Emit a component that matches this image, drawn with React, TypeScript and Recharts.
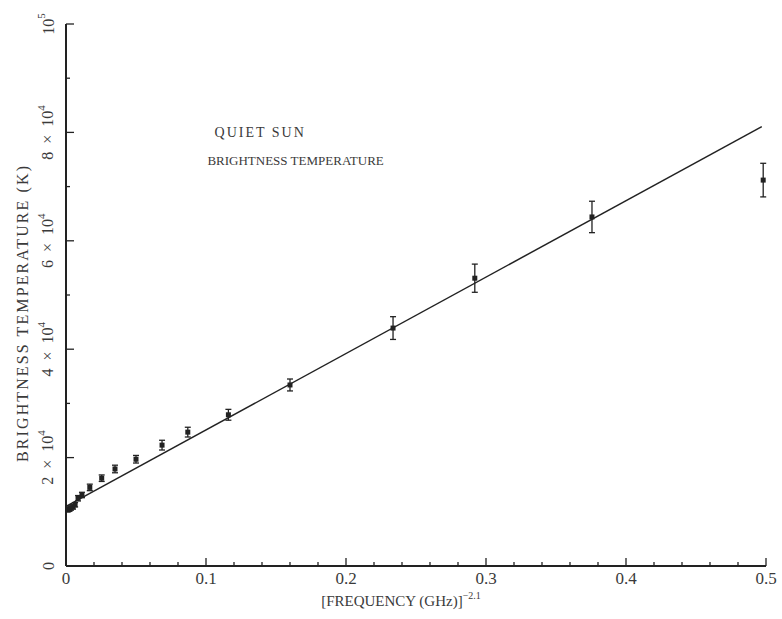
import { ComposedChart, Scatter, XAxis, YAxis, ErrorBar, ReferenceDot } from "recharts"

const freqX = [0.0015, 0.0025, 0.0035, 0.005, 0.0065, 0.0086, 0.0114, 0.017, 0.0255, 0.035, 0.05, 0.0686, 0.087, 0.116, 0.16, 0.2336, 0.292, 0.3757, 0.498]
const tempK = [10400, 10500, 10700, 10900, 11300, 12500, 13100, 14500, 16200, 17900, 19700, 22300, 24700, 27900, 33400, 43900, 53100, 64400, 71200]
const tempErr = [400, 400, 400, 400, 400, 500, 500, 600, 600, 700, 700, 900, 900, 1000, 1100, 2100, 2600, 2900, 3100]

const fitX = [0, 0.497]
const fitT = [11000, 81080]

const xTicks = [0, 0.02, 0.04, 0.06, 0.08, 0.1, 0.12, 0.14, 0.16, 0.18, 0.2, 0.22, 0.24, 0.26, 0.28, 0.3, 0.32, 0.34, 0.36, 0.38, 0.4, 0.42, 0.44, 0.46, 0.48, 0.5]
const yTicks = [0, 10000, 20000, 30000, 40000, 50000, 60000, 70000, 80000, 90000, 100000]
const yLabels: Record<number, [string, string]> = {
  0: ["0", ""],
  20000: ["2 × 10", "4"],
  40000: ["4 × 10", "4"],
  60000: ["6 × 10", "4"],
  80000: ["8 × 10", "4"],
  100000: ["10", "5"],
}

const points = freqX.map((x, i) => ({ x, T: tempK[i], err: tempErr[i] }))
const fit = fitX.map((x, i) => ({ x, T: fitT[i] }))

const ink = "#222"
const textInk = "#3a3a3a"
const font = "'Liberation Serif', 'DejaVu Serif', serif"

const isMajorX = (v: number) => Math.abs(v * 10 - Math.round(v * 10)) < 1e-6

const BottomTick = (props: any) => {
  const { x, y, payload } = props
  const major = isMajorX(payload.value)
  return (
    <g>
      <line x1={x} x2={x} y1={y} y2={y - (major ? 8 : 4)} stroke={ink} strokeWidth={1.3} />
      {major && (
        <text x={x} y={y + 18} textAnchor="middle" fontSize={17} fill={textInk} fontFamily={font}>
          {payload.value === 0 ? "0" : payload.value.toFixed(1)}
        </text>
      )}
    </g>
  )
}

const TopTick = (props: any) => {
  const { x, y, payload } = props
  const major = isMajorX(payload.value)
  return <line x1={x} x2={x} y1={y} y2={y + (major ? 8 : 4)} stroke={ink} strokeWidth={1.3} />
}

const LeftTick = (props: any) => {
  const { x, y, payload } = props
  const major = payload.value % 20000 === 0
  const lab = yLabels[payload.value]
  const tx = x - 18
  return (
    <g>
      <line x1={x} x2={x + (major ? 8 : 4)} y1={y} y2={y} stroke={ink} strokeWidth={1.3} />
      {lab && (
        <text
          x={tx}
          y={y}
          transform={`rotate(-90, ${tx}, ${y})`}
          textAnchor="middle"
          dominantBaseline="central"
          fontSize={16}
          fill={textInk}
          fontFamily={font}
          style={{ whiteSpace: "pre" }}
        >
          {lab[0].replace(/ /g, "  ")}
          {lab[1] && (
            <tspan dy={-7} fontSize={11}>
              {lab[1]}
            </tspan>
          )}
        </text>
      )}
    </g>
  )
}

const RightTick = (props: any) => {
  const { x, y, payload } = props
  const major = payload.value % 20000 === 0
  return <line x1={x} x2={x - (major ? 8 : 4)} y1={y} y2={y} stroke={ink} strokeWidth={1.3} />
}

const Dot = (props: any) => {
  const { cx, cy } = props
  return <rect x={cx - 2.5} y={cy - 2.5} width={5} height={5} fill={ink} />
}

export default function App() {
  return (
    <div style={{ position: "absolute", left: 0, top: 0, background: "#fff" }}>
      <ComposedChart width={782} height={619} margin={{ top: 24, right: 16, bottom: 23, left: 30 }}>
        <XAxis
          xAxisId="b"
          dataKey="x"
          type="number"
          domain={[0, 0.5]}
          ticks={xTicks}
          interval={0}
          tickSize={0}
          tickMargin={0}
          tick={<BottomTick />}
          height={30}
          stroke={ink}
          strokeWidth={2}
          label={{
            position: "bottom",
            content: (p: any) => {
              const vb = p.viewBox
              const cx = vb.x + vb.width / 2 - 15
              return (
                <text x={cx} y={vb.y + 40} textAnchor="middle" fontSize={15} fill={textInk} fontFamily={font}>
                  [FREQUENCY (GHz)]
                  <tspan dy={-7} fontSize={10}>
                    −2.1
                  </tspan>
                </text>
              )
            },
          }}
        />
        <XAxis
          xAxisId="t"
          dataKey="x"
          type="number"
          orientation="top"
          domain={[0, 0.5]}
          ticks={xTicks}
          interval={0}
          tickSize={0}
          tickMargin={0}
          tick={<TopTick />}
          height={0}
          stroke={ink}
          strokeWidth={2}
        />
        <YAxis
          yAxisId="l"
          dataKey="T"
          type="number"
          domain={[0, 100000]}
          ticks={yTicks}
          interval={0}
          tickSize={0}
          tickMargin={0}
          tick={<LeftTick />}
          width={36}
          stroke={ink}
          strokeWidth={2}
          label={{
            position: "left",
            content: (p: any) => {
              const vb = p.viewBox
              const cy = vb.y + vb.height / 2 + 19
              const tx = 22
              return (
                <text
                  x={tx}
                  y={cy}
                  transform={`rotate(-90, ${tx}, ${cy})`}
                  textAnchor="middle"
                  dominantBaseline="central"
                  fontSize={16}
                  fill={textInk}
                  fontFamily={font}
                  textLength={296}
                  lengthAdjust="spacing"
                >
                  BRIGHTNESS TEMPERATURE (K)
                </text>
              )
            },
          }}
        />
        <YAxis
          yAxisId="r"
          type="number"
          orientation="right"
          domain={[0, 100000]}
          ticks={yTicks}
          interval={0}
          tickSize={0}
          tickMargin={0}
          tick={<RightTick />}
          width={0}
          stroke={ink}
          strokeWidth={2}
        />
        <Scatter
          xAxisId="b"
          yAxisId="l"
          data={fit}
          dataKey="T"
          line={{ stroke: ink, strokeWidth: 1.5 }}
          shape={() => <g />}
          isAnimationActive={false}
        />
        <Scatter xAxisId="b" yAxisId="l" data={points} dataKey="T" shape={<Dot />} isAnimationActive={false}>
          <ErrorBar dataKey="err" direction="y" width={3} stroke={ink} strokeWidth={1.3} />
        </Scatter>
        <ReferenceDot
          xAxisId="b"
          yAxisId="l"
          x={0.1387}
          y={80000}
          r={0}
          fill="none"
          stroke="none"
          label={{
            value: "QUIET SUN",
            position: "center",
            fontSize: 14,
            fill: textInk,
            fontFamily: font,
            letterSpacing: 2,
          }}
        />
        <ReferenceDot
          xAxisId="b"
          yAxisId="l"
          x={0.164}
          y={74800}
          r={0}
          fill="none"
          stroke="none"
          label={{ value: "BRIGHTNESS TEMPERATURE", position: "center", fontSize: 13, fill: textInk, fontFamily: font }}
        />
      </ComposedChart>
    </div>
  )
}
